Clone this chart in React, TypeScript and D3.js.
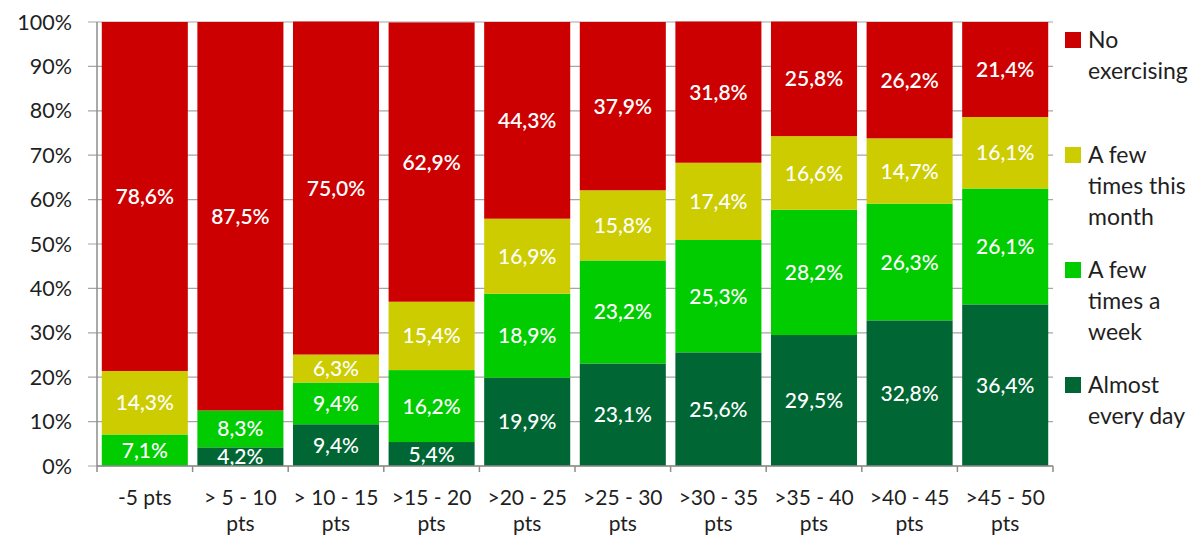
import * as d3 from "d3";

const categories = [
  ["-5 pts"],
  ["> 5 - 10", "pts"],
  ["> 10 - 15", "pts"],
  [">15 - 20", "pts"],
  [">20 - 25", "pts"],
  [">25 - 30", "pts"],
  [">30 - 35", "pts"],
  [">35 - 40", "pts"],
  [">40 - 45", "pts"],
  [">45 - 50", "pts"],
];

// stacked bottom to top
const almostEveryDay = [0, 4.2, 9.4, 5.4, 19.9, 23.1, 25.6, 29.5, 32.8, 36.4];
const fewTimesWeek = [7.1, 8.3, 9.4, 16.2, 18.9, 23.2, 25.3, 28.2, 26.3, 26.1];
const fewTimesMonth = [14.3, 0, 6.3, 15.4, 16.9, 15.8, 17.4, 16.6, 14.7, 16.1];
const noExercising = [78.6, 87.5, 75.0, 62.9, 44.3, 37.9, 31.8, 25.8, 26.2, 21.4];

const yTicks = [0, 10, 20, 30, 40, 50, 60, 70, 80, 90, 100];

const seriesList = [
  { key: "day", name: ["Almost", "every day"], values: almostEveryDay, color: "#006633" },
  { key: "week", name: ["A few", "times a", "week"], values: fewTimesWeek, color: "#00cc00" },
  { key: "month", name: ["A few", "times this", "month"], values: fewTimesMonth, color: "#cccc00" },
  { key: "no", name: ["No", "exercising"], values: noExercising, color: "#cc0000" },
];

const font = "Lato, 'Open Sans', sans-serif";

export default function App() {
  const width = 1198;
  const height = 539;
  const left = 97;
  const right = 1053;
  const top = 22;
  const bottom = 466;

  const x = d3
    .scaleBand<number>()
    .domain(d3.range(categories.length))
    .range([left, right])
    .paddingInner(0.1)
    .paddingOuter(0.05);
  const y = d3.scaleLinear().domain([0, 100]).range([bottom, top]);

  const rows = categories.map((_, i) => {
    const r: any = {};
    seriesList.forEach((s) => (r[s.key] = s.values[i]));
    return r;
  });
  const stacked = d3.stack().keys(seriesList.map((s) => s.key))(rows);

  const fmt = (v: number) => v.toFixed(1).replace(".", ",") + "%";
  const step = x.step();
  const legendOrder = [...seriesList].reverse();

  return (
    <svg
      width={width}
      height={height}
      style={{ position: "absolute", left: 0, top: 0, background: "#fff" }}
      fontFamily={font}
    >
      {/* gridlines */}
      {yTicks.map((t) => (
        <line key={t} x1={left - 9} x2={right} y1={y(t)} y2={y(t)} stroke="#a6a6a6" strokeWidth={1.2} />
      ))}
      {yTicks.map((t) => (
        <text key={t} x={72} y={y(t)} dy="0.35em" textAnchor="end" fontSize={21.5} fill="#1f1f1f">
          {t}%
        </text>
      ))}

      {stacked.map((layer, li) => (
        <g key={layer.key} fill={seriesList[li].color}>
          {layer.map((d, i) =>
            d[1] - d[0] > 0 ? (
              <rect key={i} x={x(i)} width={x.bandwidth()} y={y(d[1])} height={y(d[0]) - y(d[1])} />
            ) : null
          )}
        </g>
      ))}

      {stacked.map((layer, li) => (
        <g key={layer.key + "l"}>
          {layer.map((d, i) => {
            const v = d[1] - d[0];
            if (v <= 0) return null;
            return (
              <text
                key={i}
                x={(x(i) as number) + x.bandwidth() / 2}
                y={y((d[0] + d[1]) / 2)}
                dy="0.36em"
                textAnchor="middle"
                fontSize={21}
                fontWeight={li === 3 ? 600 : 500}
                fill="#fff"
              >
                {fmt(seriesList[li].values[i])}
              </text>
            );
          })}
        </g>
      ))}

      {/* axes */}
      <line x1={left} x2={left} y1={top} y2={bottom} stroke="#8c8c8c" strokeWidth={1.5} />
      <line x1={left} x2={right} y1={bottom} y2={bottom} stroke="#8c8c8c" strokeWidth={1.5} />
      {d3.range(categories.length + 1).map((i) => (
        <line
          key={i}
          x1={left + i * step}
          x2={left + i * step}
          y1={bottom}
          y2={bottom + 6}
          stroke="#8c8c8c"
          strokeWidth={1.5}
        />
      ))}
      {categories.map((lines, i) => (
        <text key={i} textAnchor="middle" fontSize={21} fill="#1f1f1f">
          {lines.map((l, j) => (
            <tspan key={j} x={(x(i) as number) + x.bandwidth() / 2} y={505 + j * 26}>
              {l}
            </tspan>
          ))}
        </text>
      ))}

      {/* legend */}
      {legendOrder.map((s, k) => {
        const base = 48 + k * 115;
        return (
          <g key={s.key}>
            <rect x={1065} y={base - 16} width={16} height={16} fill={s.color} />
            <text fontSize={23} fill="#1f1f1f">
              {s.name.map((l, j) => (
                <tspan key={j} x={1088} y={base + j * 31}>
                  {l}
                </tspan>
              ))}
            </text>
          </g>
        );
      })}
    </svg>
  );
}
